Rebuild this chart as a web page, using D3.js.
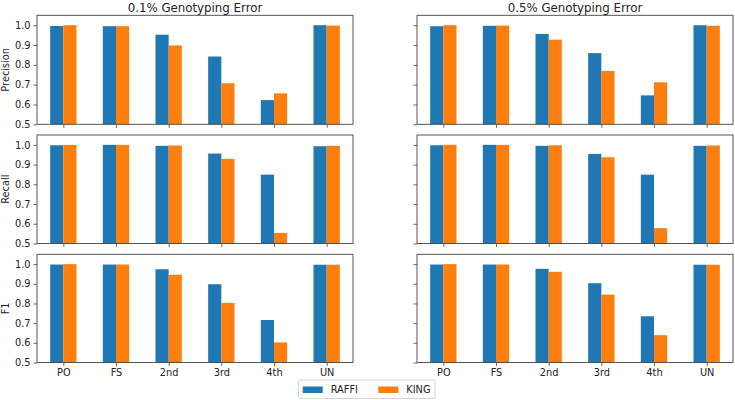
<!DOCTYPE html>
<html><head><meta charset="utf-8">
<script src="https://cdn.jsdelivr.net/npm/d3@7"></script>
<style>body{margin:0;background:#fff}svg{display:block}text{font-family:"DejaVu Sans",sans-serif;fill:#222}</style>
</head><body><svg id="c" width="735" height="400"></svg>
<script>
const categories = ["PO","FS","2nd","3rd","4th","UN"];
const seriesNames = ["RAFFI","KING"];
const metrics = ["Precision","Recall","F1"];
const titles = ["0.1% Genotyping Error","0.5% Genotyping Error"];
const yTicks = [0.5,0.6,0.7,0.8,0.9,1.0];
// [metric][error] -> [RAFFI values, KING values]
const precision01_raffi = [0.996,0.995,0.952,0.842,0.622,1.000];
const precision01_king  = [1.000,0.995,0.898,0.707,0.656,0.998];
const precision05_raffi = [0.995,0.997,0.956,0.859,0.646,1.000];
const precision05_king  = [1.000,0.998,0.927,0.769,0.712,0.997];
const recall01_raffi = [0.998,1.000,0.995,0.956,0.849,0.993];
const recall01_king  = [1.000,1.000,0.997,0.929,0.554,0.995];
const recall05_raffi = [0.998,1.000,0.995,0.954,0.849,0.995];
const recall05_king  = [1.000,1.000,0.998,0.937,0.578,0.997];
const f101_raffi = [0.998,0.998,0.974,0.898,0.716,0.997];
const f101_king  = [1.000,0.998,0.946,0.803,0.602,0.997];
const f105_raffi = [0.998,0.998,0.976,0.903,0.735,0.997];
const f105_king  = [1.000,0.998,0.961,0.845,0.639,0.997];

const data = [
  [[precision01_raffi,precision01_king],[precision05_raffi,precision05_king]],
  [[recall01_raffi,recall01_king],[recall05_raffi,recall05_king]],
  [[f101_raffi,f101_king],[f105_raffi,f105_king]]
];
const colors = ["#1f77b4","#ff7f0e"];

const svg = d3.select("#c");
const colX = [[37,353],[417,733]];
const rowY = [[15.3,124.3],[135,243.5],[254.3,362.5]];
const fs = 9.8;

for (let r=0;r<3;r++){
  for (let c=0;c<2;c++){
    const x = d3.scaleLinear().domain([-0.5,5.5]).range(colX[c]);
    const y = d3.scaleLinear().domain([0.5,1.05]).range([rowY[r][1],rowY[r][0]]);
    const g = svg.append("g");
    const bw = x(0.25)-x(0);
    data[r][c].forEach((vals,s)=>{
      g.selectAll(null).data(vals).enter().append("rect")
        .attr("x",(d,i)=>x(i)+(s===0?-bw:0))
        .attr("width",bw)
        .attr("y",d=>y(d))
        .attr("height",d=>y(0.5)-y(d))
        .attr("fill",colors[s]);
    });
    // frame
    g.append("rect").attr("x",colX[c][0]).attr("y",rowY[r][0])
      .attr("width",colX[c][1]-colX[c][0]).attr("height",rowY[r][1]-rowY[r][0])
      .attr("fill","none").attr("stroke","#444").attr("stroke-width",0.9);
    // y axis
    const ya = d3.axisLeft(y).tickValues(yTicks).tickSize(3.5).tickPadding(3)
      .tickFormat(c===0?d3.format(".1f"):()=>"");
    const yg = g.append("g").attr("transform",`translate(${colX[c][0]},0)`).call(ya);
    // x axis
    const xa = d3.axisBottom(x).tickValues(d3.range(6)).tickSize(3.5).tickPadding(3)
      .tickFormat(r===2?(i=>categories[i]):()=>"");
    const xg = g.append("g").attr("transform",`translate(0,${rowY[r][1]})`).call(xa);
    [yg,xg].forEach(a=>{
      a.select(".domain").remove();
      a.selectAll(".tick line").attr("stroke","#444").attr("stroke-width",0.8);
      a.selectAll(".tick text").attr("font-size",fs).attr("font-family","DejaVu Sans, sans-serif").attr("fill","#222");
    });
    if (c===0){
      g.append("text").attr("transform",`translate(9,${(rowY[r][0]+rowY[r][1])/2}) rotate(-90)`)
        .attr("text-anchor","middle").attr("font-size",fs).text(metrics[r]);
    }
    if (r===0){
      g.append("text").attr("x",(colX[c][0]+colX[c][1])/2).attr("y",11.5)
        .attr("text-anchor","middle").attr("font-size",11.8).text(titles[c]);
    }
  }
}
// legend
const lg = svg.append("g");
lg.append("rect").attr("x",298.5).attr("y",380).attr("width",136.5).attr("height",18.5).attr("rx",2)
  .attr("fill","#fff").attr("stroke","#ccc").attr("stroke-width",0.8);
const lx = [302.7,378.3];
seriesNames.forEach((n,i)=>{
  lg.append("rect").attr("x",lx[i]).attr("y",386.5).attr("width",20).attr("height",6.5).attr("fill",colors[i]);
  lg.append("text").attr("x",lx[i]+28).attr("y",393.2).attr("font-size",fs).text(n);
});
</script></body></html>
